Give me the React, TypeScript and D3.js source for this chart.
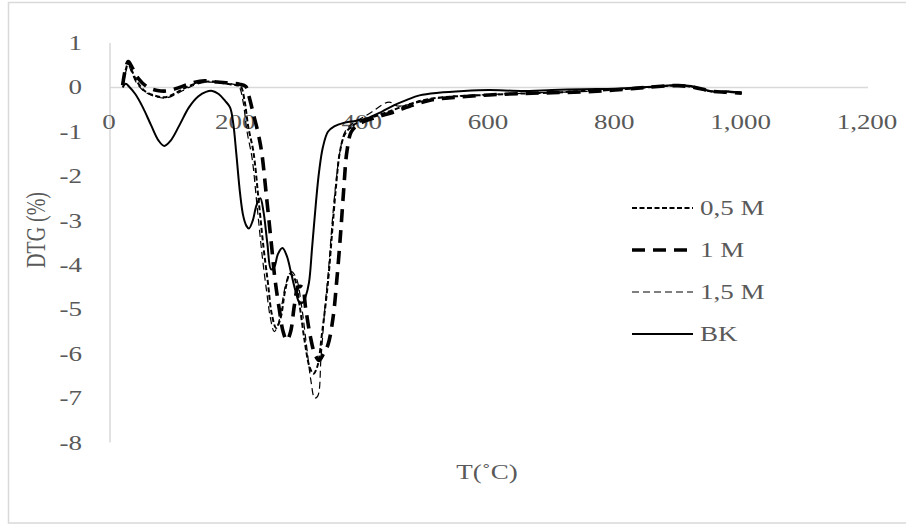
import React from "react";
import * as d3 from "d3";

type P = [number, number];

const xTicks = [0, 200, 400, 600, 800, 1000, 1200];
const yTicks = [1, 0, -1, -2, -3, -4, -5, -6, -7, -8];

const s05: P[] = [
  [20, 0.05], [25, 0.4], [29, 0.55], [34, 0.4], [42, 0.15], [55, -0.08], [70, -0.18], [88, -0.22], [105, -0.12],
  [125, 0.03], [145, 0.12], [165, 0.13], [185, 0.08], [200, 0.05], [207, 0.02], [213, -0.3], [219, -0.9], [227, -1.45],
  [235, -2.5], [243, -3.6], [250, -4.4], [256, -5.1], [263, -5.42], [270, -5.2], [277, -4.6], [285, -4.2], [292, -4.3],
  [300, -4.9], [308, -5.7], [316, -6.3], [322, -6.45], [328, -6.3], [336, -5.5], [345, -4.4], [352, -3.2], [358, -2.2],
  [364, -1.45], [372, -1.05], [385, -0.85], [400, -0.75], [420, -0.65], [450, -0.5], [480, -0.35], [510, -0.25],
  [550, -0.2], [600, -0.17], [650, -0.14], [700, -0.12], [750, -0.08], [800, -0.05], [850, 0], [900, 0.04],
  [925, 0.0], [950, -0.09], [975, -0.1], [1000, -0.13],
];

const s1: P[] = [
  [20, 0.05], [25, 0.45], [29, 0.58], [35, 0.45], [45, 0.2], [60, 0.0], [75, -0.07], [90, -0.08], [110, 0.0],
  [130, 0.1], [150, 0.15], [170, 0.12], [190, 0.1], [205, 0.07], [215, 0.02], [220, -0.2], [227, -0.6], [234, -1.0],
  [240, -1.45], [248, -2.5], [256, -3.6], [261, -4.3], [268, -5.0], [274, -5.5], [280, -5.7], [286, -5.5], [292, -4.9],
  [298, -4.5], [304, -4.5], [310, -5.0], [317, -5.6], [324, -6.0], [331, -6.15], [338, -6.0], [345, -5.8], [353, -5.2],
  [359, -4.35], [365, -3.3], [370, -2.3], [375, -1.45], [382, -1.0], [392, -0.85], [405, -0.75], [420, -0.68],
  [450, -0.55], [480, -0.4], [510, -0.28], [550, -0.22], [600, -0.17], [650, -0.14], [700, -0.12], [750, -0.1],
  [800, -0.06], [850, 0], [900, 0.04], [925, 0], [950, -0.08], [975, -0.11], [1000, -0.13],
];

const s15: P[] = [
  [20, 0.05], [25, 0.35], [29, 0.5], [34, 0.35], [42, 0.1], [55, -0.1], [70, -0.2], [88, -0.24], [105, -0.15],
  [125, 0.0], [145, 0.1], [165, 0.12], [185, 0.1], [200, 0.05], [205, 0], [211, -0.35], [217, -1.0], [225, -1.6],
  [233, -2.7], [241, -3.8], [248, -4.6], [254, -5.2], [260, -5.5], [266, -5.35], [272, -4.9], [279, -4.4], [287, -4.15],
  [295, -4.3], [303, -4.9], [311, -5.8], [318, -6.6], [324, -7.0], [329, -6.95], [334, -6.1], [340, -5.0], [346, -4.1],
  [352, -3.0], [358, -2.1], [364, -1.45], [372, -1.0], [385, -0.8], [400, -0.68], [415, -0.55], [430, -0.4],
  [442, -0.33], [455, -0.42], [475, -0.38], [500, -0.3], [530, -0.22], [570, -0.18], [620, -0.15], [680, -0.12],
  [740, -0.1], [800, -0.06], [850, 0], [900, 0.05], [925, 0.0], [950, -0.08], [975, -0.1], [1000, -0.12],
];

const bk: P[] = [
  [20, 0], [25, 0.08], [30, 0.02], [40, -0.15], [52, -0.45], [65, -0.85], [77, -1.2], [86, -1.32], [96, -1.2],
  [110, -0.85], [125, -0.45], [140, -0.2], [152, -0.1], [162, -0.08], [172, -0.15], [182, -0.3], [190, -0.45],
  [195, -0.8], [200, -1.5], [206, -2.4], [211, -2.9], [216, -3.12], [220, -3.18], [226, -3.0], [232, -2.65],
  [238, -2.5], [243, -2.8], [249, -3.5], [255, -4.1], [260, -4.05], [266, -3.75], [273, -3.62], [280, -3.8],
  [287, -4.2], [294, -4.6], [300, -4.85], [305, -4.85], [310, -4.7], [315, -4.4], [320, -3.6], [326, -2.6],
  [331, -1.9], [337, -1.35], [345, -1.0], [355, -0.88], [370, -0.8], [390, -0.75], [410, -0.68], [430, -0.55],
  [450, -0.4], [470, -0.28], [490, -0.18], [520, -0.12], [560, -0.08], [600, -0.06], [650, -0.08], [700, -0.06],
  [750, -0.04], [800, -0.03], [850, 0.01], [900, 0.05], [920, 0.03], [940, -0.05], [960, -0.1], [980, -0.09],
  [1000, -0.12],
];

const legendLabels = ["0,5 M", "1 M", "1,5 M", "BK"];
const yTitle = "DTG (%)";
const xTitle = "T(˚C)";

const W = 906;
const H = 525;
const SX = 1.35;
const FONT = "'Liberation Serif', 'Times New Roman', serif";
const TXT = "#595959";
const GRID = "#d9d9d9";

const styles = [
  { data: s15, width: 1.2, dash: "7,4" },
  { data: s05, width: 2, dash: "5,2.5" },
  { data: s1, width: 3.6, dash: "13,8" },
  { data: bk, width: 2, dash: "" },
];
const legendStyles = [styles[1], styles[2], styles[0], styles[3]];

export default function App() {
  const x = d3.scaleLinear().domain([0, 1200]).range([110, 868]);
  const y = d3.scaleLinear().domain([1, -8]).range([43, 442.5]);
  const line = d3
    .line<P>()
    .x((d) => x(d[0]))
    .y((d) => y(d[1]))
    .curve(d3.curveCatmullRom.alpha(0.5));

  return (
    <svg
      width={W}
      height={H}
      style={{ position: "absolute", left: 0, top: 0, background: "#fff" }}
      fontFamily={FONT}
    >
      <rect x={8.5} y={2.5} width={W} height={520.5} fill="#fff" stroke={GRID} strokeWidth={1.5} />
      <line x1={x(0)} x2={x(0)} y1={y(1)} y2={y(-8)} stroke={GRID} strokeWidth={1.5} />
      <line x1={x(0)} x2={x(1200)} y1={y(0)} y2={y(0)} stroke={GRID} strokeWidth={1.5} />
      {yTicks.map((t) => (
        <text
          key={"y" + t}
          transform={`translate(82,${y(t)}) scale(${SX},1)`}
          textAnchor="end"
          dy="0.35em"
          fontSize={20}
          fill={TXT}
        >
          {t}
        </text>
      ))}
      {xTicks.map((t) => (
        <text
          key={"x" + t}
          transform={`translate(${x(t) - 1},129) scale(${SX},1)`}
          textAnchor="middle"
          fontSize={20}
          fill={TXT}
        >
          {d3.format(",")(t)}
        </text>
      ))}
      {styles.map((s, i) => (
        <path
          key={"s" + i}
          d={line(s.data) || ""}
          fill="none"
          stroke="#000"
          strokeWidth={s.width}
          strokeDasharray={s.dash}
          strokeLinejoin="round"
        />
      ))}
      {legendLabels.map((lab, i) => {
        const ly = 208 + i * 42;
        const s = legendStyles[i];
        return (
          <g key={"l" + i}>
            <line x1={632} x2={693} y1={ly} y2={ly} stroke="#000" strokeWidth={s.width} strokeDasharray={s.dash} />
            <text transform={`translate(700,${ly}) scale(${SX},1)`} dy="0.35em" fontSize={20} fill={TXT}>
              {lab}
            </text>
          </g>
        );
      })}
      <text
        transform={`translate(36,230) scale(${SX},1) rotate(-90)`}
        textAnchor="middle"
        dy="0.35em"
        fontSize={20}
        fill={TXT}
      >
        {yTitle}
      </text>
      <text transform={`translate(487,479) scale(${SX},1)`} textAnchor="middle" fontSize={20} fill={TXT}>
        {xTitle}
      </text>
    </svg>
  );
}
